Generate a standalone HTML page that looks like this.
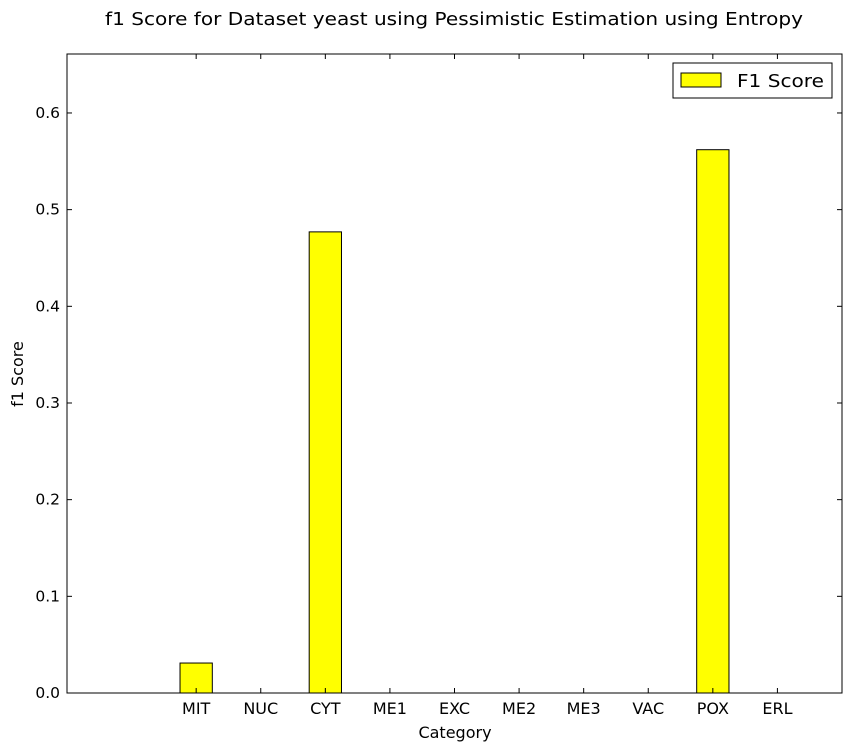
<!DOCTYPE html>
<html><head><meta charset="utf-8"><style>
body{margin:0;background:#fff;font-family:"DejaVu Sans","Liberation Sans",sans-serif;}
svg text{font-family:"DejaVu Sans","Liberation Sans",sans-serif;}
</style></head><body>
<svg id="chart" width="852" height="752" xmlns="http://www.w3.org/2000/svg">
<rect width="852" height="752" fill="#fff"/>
<text x="105" y="25" font-size="18" textLength="698" lengthAdjust="spacingAndGlyphs">f1 Score for Dataset yeast using Pessimistic Estimation using Entropy</text>
<g id="plot"></g>
<rect x="67" y="54" width="775" height="639" fill="none" stroke="#000" stroke-width="1"/>
<text x="455" y="738" font-size="16" text-anchor="middle">Category</text>
<text x="23" y="374" font-size="16" text-anchor="middle" transform="rotate(-90 23 374)">f1 Score</text>
<g>
<rect x="673" y="63" width="159" height="35" fill="#fff" stroke="#000"/>
<rect x="681" y="73" width="40" height="14" fill="#ffff00" stroke="#000"/>
<text x="737" y="87" font-size="18" textLength="87" lengthAdjust="spacingAndGlyphs">F1 Score</text>
</g>
</svg>
<script>
const categories=["MIT","NUC","CYT","ME1","EXC","ME2","ME3","VAC","POX","ERL"];
const values=[0.031,0,0.477,0,0,0,0,0,0.562,0];
const yTicks=[0,0.1,0.2,0.3,0.4,0.5,0.6];
const yTickLabels=["0.0","0.1","0.2","0.3","0.4","0.5","0.6"];
const L=67,R=842,T=54,B=693,xMin=-2,xMax=10,yMax=0.661;
const xs=i=>L+(i-xMin)/(xMax-xMin)*(R-L);
const ys=v=>B-v/yMax*(B-T);
const g=document.getElementById('plot');
const NS="http://www.w3.org/2000/svg";
function mk(t,a){const e=document.createElementNS(NS,t);for(const k in a)e.setAttribute(k,a[k]);g.appendChild(e);return e;}
const bw=(R-L)/(xMax-xMin)*0.5;
values.forEach((v,i)=>{
 const r=mk('rect',{x:xs(i)-bw/2,y:ys(v),width:bw,height:B-ys(v),fill:'#ffff00',stroke:'#000','stroke-width':1});
 
 
});
categories.forEach((c,i)=>{
 const x=xs(i);
 mk('line',{x1:x,x2:x,y1:B,y2:B-5,stroke:'#000'});
 mk('line',{x1:x,x2:x,y1:T,y2:T+5,stroke:'#000'});
 const t=mk('text',{x:x,y:B+21,'font-size':16,'text-anchor':'middle'});
 t.textContent=c;
 
 
});
yTicks.forEach((v,i)=>{
 const y=ys(v);
 mk('line',{x1:L,x2:L+5,y1:y,y2:y,stroke:'#000'});
 mk('line',{x1:R,x2:R-5,y1:y,y2:y,stroke:'#000'});
 const t=mk('text',{x:L-7,y:y+5,'font-size':15.5,'text-anchor':'end'});
 t.textContent=yTickLabels[i];
 
 
});
</script>
</body></html>
